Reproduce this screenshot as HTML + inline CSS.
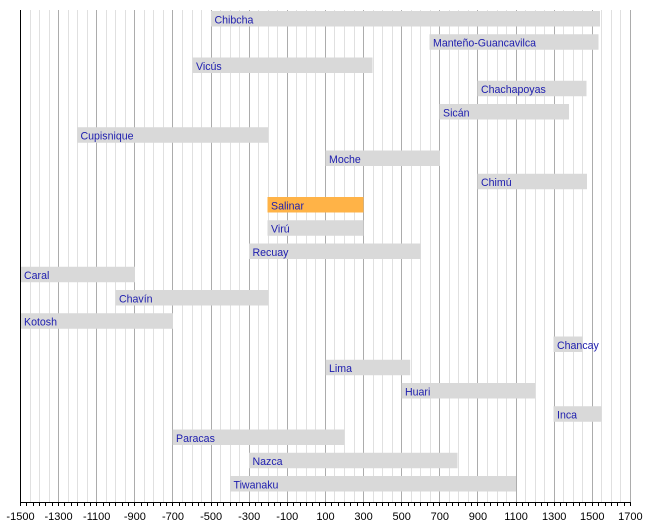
<!DOCTYPE html>
<html>
<head>
<meta charset="utf-8">
<style>
html,body{margin:0;padding:0;background:#fff;}
svg{display:block;}
.bl{font-family:"Liberation Sans",Arial,sans-serif;font-size:10.6px;fill:#1c1cae;}
.tl{font-family:"Liberation Sans",Arial,sans-serif;font-size:11px;fill:#000;text-anchor:middle;}
</style>
</head>
<body>
<svg width="650" height="522" viewBox="0 0 650 522" xmlns="http://www.w3.org/2000/svg">
<rect x="0" y="0" width="650" height="522" fill="#fff"/>
<path stroke="#e0e0e0" stroke-width="1" shape-rendering="crispEdges" fill="none" d="
M30.5 10V502 M39.5 10V502 M49.5 10V502
M68.5 10V502 M77.5 10V502 M87.5 10V502
M106.5 10V502 M115.5 10V502 M125.5 10V502
M144.5 10V502 M153.5 10V502 M163.5 10V502
M182.5 10V502 M192.5 10V502 M201.5 10V502
M220.5 10V502 M230.5 10V502 M239.5 10V502
M258.5 10V502 M268.5 10V502 M277.5 10V502
M296.5 10V502 M306.5 10V502 M315.5 10V502
M334.5 10V502 M344.5 10V502 M354.5 10V502
M373.5 10V502 M382.5 10V502 M392.5 10V502
M411.5 10V502 M420.5 10V502 M430.5 10V502
M449.5 10V502 M458.5 10V502 M468.5 10V502
M487.5 10V502 M497.5 10V502 M506.5 10V502
M525.5 10V502 M535.5 10V502 M544.5 10V502
M563.5 10V502 M573.5 10V502 M582.5 10V502
M601.5 10V502 M611.5 10V502 M620.5 10V502"/>
<path stroke="#acacac" stroke-width="1" shape-rendering="crispEdges" fill="none" d="
M58.5 10V502 M96.5 10V502 M134.5 10V502 M172.5 10V502 M211.5 10V502 M249.5 10V502
M287.5 10V502 M325.5 10V502 M363.5 10V502 M401.5 10V502 M439.5 10V502 M477.5 10V502
M516.5 10V502 M554.5 10V502 M592.5 10V502 M630.5 10V502"/>

<g fill="#d9d9d9">
<rect x="211" y="11" width="389" height="15.5"/>
<rect x="429.5" y="34.25" width="169" height="15.5"/>
<rect x="192.5" y="57.5" width="180" height="15.5"/>
<rect x="477.5" y="80.75" width="109" height="15.5"/>
<rect x="439.5" y="104" width="129.5" height="15.5"/>
<rect x="77" y="127.25" width="191" height="15.5"/>
<rect x="325.5" y="150.5" width="114.5" height="15.5"/>
<rect x="477.5" y="173.75" width="109.5" height="15.5"/>
<rect x="267.5" y="220.25" width="96" height="15.5"/>
<rect x="249" y="243.5" width="171.7" height="15.5"/>
<rect x="21" y="266.75" width="114" height="15.5"/>
<rect x="115.8" y="290" width="152.5" height="15.5"/>
<rect x="21" y="313.25" width="152" height="15.5"/>
<rect x="553.5" y="336.5" width="29" height="15.5"/>
<rect x="325.7" y="359.75" width="84.5" height="15.5"/>
<rect x="401.7" y="383" width="133.3" height="15.5"/>
<rect x="553.5" y="406.25" width="48" height="15.5"/>
<rect x="172.7" y="429.5" width="171.6" height="15.5"/>
<rect x="249" y="452.75" width="208.5" height="15.5"/>
<rect x="230" y="476" width="286" height="15.5"/>
</g>
<rect x="267.5" y="197" width="96" height="15.5" fill="#ffb347"/>

<g class="bl">
<text x="214.5" y="23.3">Chibcha</text>
<text x="433" y="46.55">Manteño-Guancavilca</text>
<text x="196" y="69.8">Vicús</text>
<text x="481" y="93.05">Chachapoyas</text>
<text x="443" y="116.3">Sicán</text>
<text x="80.5" y="139.55">Cupisnique</text>
<text x="329" y="162.8">Moche</text>
<text x="481" y="186.05">Chimú</text>
<text x="271" y="209.3">Salinar</text>
<text x="271" y="232.55">Virú</text>
<text x="252.5" y="255.8">Recuay</text>
<text x="24" y="279.05">Caral</text>
<text x="119" y="302.3">Chavín</text>
<text x="24" y="325.55">Kotosh</text>
<text x="557" y="348.8">Chancay</text>
<text x="329" y="372.05">Lima</text>
<text x="405" y="395.3">Huari</text>
<text x="557" y="418.55">Inca</text>
<text x="176" y="441.8">Paracas</text>
<text x="252.5" y="465.05">Nazca</text>
<text x="233.5" y="488.3">Tiwanaku</text>
</g>

<path stroke="#000" stroke-width="1" shape-rendering="crispEdges" fill="none" d="M20.5 10V502.5 M20 502.5H631"/>
<path stroke="#000" stroke-width="1" shape-rendering="crispEdges" fill="none" d="
M20.5 502V506 M26.5 502V506 M33.5 502V506 M39.5 502V506 M45.5 502V506 M52.5 502V506
M58.5 502V506 M64.5 502V506 M71.5 502V506 M77.5 502V506 M84.5 502V506 M90.5 502V506
M96.5 502V506 M103.5 502V506 M109.5 502V506 M115.5 502V506 M122.5 502V506 M128.5 502V506
M134.5 502V506 M141.5 502V506 M147.5 502V506 M153.5 502V506 M160.5 502V506 M166.5 502V506
M172.5 502V506 M179.5 502V506 M185.5 502V506 M192.5 502V506 M198.5 502V506 M204.5 502V506
M211.5 502V506 M217.5 502V506 M223.5 502V506 M230.5 502V506 M236.5 502V506 M242.5 502V506
M249.5 502V506 M255.5 502V506 M261.5 502V506 M268.5 502V506 M274.5 502V506 M280.5 502V506
M287.5 502V506 M293.5 502V506 M300.5 502V506 M306.5 502V506 M312.5 502V506 M319.5 502V506
M325.5 502V506 M331.5 502V506 M338.5 502V506 M344.5 502V506 M350.5 502V506 M357.5 502V506
M363.5 502V506 M369.5 502V506 M376.5 502V506 M382.5 502V506 M388.5 502V506 M395.5 502V506
M401.5 502V506 M408.5 502V506 M414.5 502V506 M420.5 502V506 M427.5 502V506 M433.5 502V506
M439.5 502V506 M446.5 502V506 M452.5 502V506 M458.5 502V506 M465.5 502V506 M471.5 502V506
M477.5 502V506 M484.5 502V506 M490.5 502V506 M497.5 502V506 M503.5 502V506 M509.5 502V506
M516.5 502V506 M522.5 502V506 M528.5 502V506 M535.5 502V506 M541.5 502V506 M547.5 502V506
M554.5 502V506 M560.5 502V506 M566.5 502V506 M573.5 502V506 M579.5 502V506 M585.5 502V506
M592.5 502V506 M598.5 502V506 M605.5 502V506 M611.5 502V506 M617.5 502V506 M624.5 502V506
M630.5 502V506"/>

<g class="tl">
<text x="20.5" y="520">-1500</text>
<text x="58.6" y="520">-1300</text>
<text x="96.7" y="520">-1100</text>
<text x="134.9" y="520">-900</text>
<text x="173" y="520">-700</text>
<text x="211.1" y="520">-500</text>
<text x="249.2" y="520">-300</text>
<text x="287.3" y="520">-100</text>
<text x="325.5" y="520">100</text>
<text x="363.6" y="520">300</text>
<text x="401.7" y="520">500</text>
<text x="439.8" y="520">700</text>
<text x="477.9" y="520">900</text>
<text x="516.1" y="520">1100</text>
<text x="554.2" y="520">1300</text>
<text x="592.3" y="520">1500</text>
<text x="630.4" y="520">1700</text>
</g>
</svg>
</body>
</html>
